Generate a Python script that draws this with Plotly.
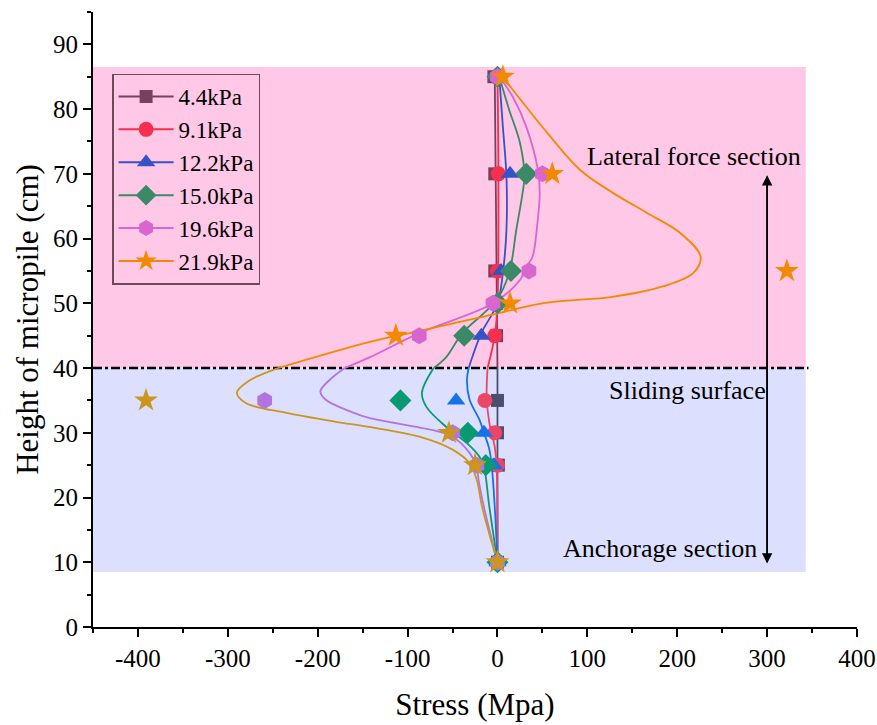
import plotly.graph_objects as go

# ---------------- data ----------------
series_names = ["4.4kPa", "9.1kPa", "12.2kPa", "15.0kPa", "19.6kPa", "21.9kPa"]
heights = [10, 25, 30, 35, 45, 50, 55, 70, 85]

stress_4_4 = [0, 1, 0, 0, -1, -1, -3, -3, -4]
stress_9_1 = [0, 0, -3, -14, -3, 0, 0, 1, 0]
stress_12_2 = [0, -4, -15, -46, -18, 4, 4, 14, 0]
stress_15_0 = [0, -13, -33, -108, -37, 0, 15, 32, 0]
stress_19_6 = [0, -23, -50, -259, -87, -5, 35, 50, 0]
stress_21_9 = [0, -25, -54, -391, -113, 14, 322, 61, 6]

# fitted curves (height, stress)
curve_h_4_4 = [10, 25, 40, 55, 70, 85]
curve_s_4_4 = [0, 0, 0, -1, -2, -3]
curve_h_9_1 = [10, 25, 27.8, 31.5, 35.5, 40, 45, 50, 70, 85]
curve_s_9_1 = [0, -1, -3, -9, -12, -11, -3, 0, 1, 0]
curve_h_12_2 = [10, 18.5, 24.3, 27.4, 30, 32, 35.1, 38.2, 40, 41.7, 45.4, 50, 54.7, 61.4, 69.6, 77.3, 85]
curve_s_12_2 = [0, -3, -6, -9, -15, -20, -31, -34, -32, -28, -18, 0, 6, 10, 10, 6, 2]
curve_h_15_0 = [10, 18.5, 24.7, 26.3, 28.4, 30.9, 34, 36.2, 40, 41.7, 45.4, 50.5, 54.7, 61.4, 67.1, 69.6, 74.8, 79.9, 85]
curve_s_15_0 = [0, -9, -15, -20, -34, -57, -79, -84, -71, -57, -39, -1, 13, 21, 28, 30, 25, 13, 2]
curve_h_19_6 = [10, 18.5, 22.7, 24.7, 26.9, 29.4, 30.4, 32.3, 33.2, 35.1, 36.4, 38, 40, 41.6, 45.4, 50,
                53.6, 55.6, 57.2, 61.8, 67.1, 70.6, 77.3, 81.9, 85]
curve_s_19_6 = [0, -15, -21, -23, -31, -50, -72, -143, -162, -191, -197, -188, -170, -143, -87, -5,
                25, 32, 39, 44, 47, 45, 32, 17, 2]
curve_h_21_9 = [10, 18.5, 22.7, 25.3, 27.4, 29.4, 30.9, 31.7, 33.1, 34.6, 36.2, 38, 40, 44, 45.6, 48,
                50.1, 51, 52.6, 54.7, 57.2, 60.9, 64, 67.1, 70.6, 76.4, 83, 85]
curve_s_21_9 = [0, -17, -23, -31, -50, -87, -143, -180, -236, -280, -290, -277, -244, -143, -91, -14,
                55, 128, 184, 218, 226, 203, 166, 128, 92, 55, 17, 6]

x_tick_vals = [-400, -300, -200, -100, 0, 100, 200, 300, 400]
x_tick_text = ["-400", "-300", "-200", "-100", "0", "100", "200", "300", "400"]
y_tick_vals = [0, 10, 20, 30, 40, 50, 60, 70, 80, 90]

# ---------------- styles ----------------
points = [stress_4_4, stress_9_1, stress_12_2, stress_15_0, stress_19_6, stress_21_9]
curves = [(curve_h_4_4, curve_s_4_4), (curve_h_9_1, curve_s_9_1), (curve_h_12_2, curve_s_12_2),
          (curve_h_15_0, curve_s_15_0), (curve_h_19_6, curve_s_19_6), (curve_h_21_9, curve_s_21_9)]
top_colors = ["#7a3f5e", "#f5304e", "#3552c8", "#3a8a68", "#d865d0", "#f28a00"]
bot_colors = ["#4b4e6e", "#ea4668", "#1672e6", "#0a9a72", "#b275e0", "#cc961e"]
symbols = ["square", "circle", "triangle-up", "diamond", "hexagon", "star"]
sizes = [13, 15, 16, 17, 17, 18]
SURFACE = 40
FONT = "Liberation Serif, Times New Roman, serif"

fig = go.Figure()

# background zones
fig.add_shape(type="rect", x0=-450, x1=343, y0=40, y1=86.5, xref="x", yref="y",
              fillcolor="#ffc8e6", line_width=0, layer="below")
fig.add_shape(type="rect", x0=-450, x1=343, y0=8.5, y1=40, xref="x", yref="y",
              fillcolor="#dce0fe", line_width=0, layer="below")
fig.add_shape(type="line", x0=-450, x1=346, y0=40, y1=40, xref="x", yref="y",
              line=dict(color="black", width=2.5, dash="dashdot"), layer="below")

# curves
for i, (ch, cs) in enumerate(curves):
    bh = [h for h in ch if h <= SURFACE]
    bs = [s for h, s in zip(ch, cs) if h <= SURFACE]
    th = [h for h in ch if h >= SURFACE]
    ts = [s for h, s in zip(ch, cs) if h >= SURFACE]
    fig.add_trace(go.Scatter(x=bs, y=bh, mode="lines", line=dict(color=bot_colors[i], width=1.8, shape="spline"),
                             showlegend=False, hoverinfo="skip"))
    fig.add_trace(go.Scatter(x=ts, y=th, mode="lines", line=dict(color=top_colors[i], width=1.8, shape="spline"),
                             showlegend=False, hoverinfo="skip"))

# markers
for i, vals in enumerate(points):
    cols = [top_colors[i] if h > SURFACE else bot_colors[i] for h in heights]
    fig.add_trace(go.Scatter(x=vals, y=heights, mode="markers",
                             marker=dict(symbol=symbols[i], size=sizes[i], color=cols, line_width=0),
                             showlegend=False))

# legend entries
for i, name in enumerate(series_names):
    fig.add_trace(go.Scatter(x=[None], y=[None], mode="lines+markers", name=name,
                             line=dict(color=top_colors[i], width=2),
                             marker=dict(symbol=symbols[i], size=sizes[i], color=top_colors[i])))

# texts and arrow
ann_font = dict(family=FONT, size=26, color="black")
fig.add_annotation(x=219, y=72.7, text="Lateral force section", showarrow=False, font=ann_font)
fig.add_annotation(x=211, y=36.6, text="Sliding surface", showarrow=False, font=ann_font)
fig.add_annotation(x=181, y=12.1, text="Anchorage section", showarrow=False, font=ann_font)
fig.add_annotation(x=300, y=69.8, ax=300, ay=9.8, xref="x", yref="y", axref="x", ayref="y",
                   text="", showarrow=True, arrowhead=2, arrowsize=1.3, arrowwidth=1.6, arrowcolor="black")
fig.add_annotation(x=300, y=9.8, ax=300, ay=69.8, xref="x", yref="y", axref="x", ayref="y",
                   text="", showarrow=True, arrowhead=2, arrowsize=1.3, arrowwidth=1.6, arrowcolor="black")

fig.update_layout(
    width=877, height=725,
    margin=dict(l=93, r=20, t=12, b=98),
    paper_bgcolor="white", plot_bgcolor="white",
    font=dict(family=FONT, color="black"),
    legend=dict(x=0.025, y=0.9, xanchor="left", yanchor="top",
                bgcolor="rgba(0,0,0,0)", bordercolor="#6b4a5a", borderwidth=1.5, itemwidth=55,
                font=dict(family=FONT, size=23, color="black"), tracegroupgap=0),
)
fig.update_xaxes(range=[-450, 400], tickvals=x_tick_vals, ticktext=x_tick_text, automargin=False,
                 showgrid=False, zeroline=False, showline=True, linecolor="black", linewidth=2,
                 ticks="outside", ticklen=8, tickwidth=2, tickcolor="black",
                 tickfont=dict(family=FONT, size=25),
                 minor=dict(dtick=50, tick0=0, ticks="outside", ticklen=4, tickwidth=2, tickcolor="black"),
                 title=dict(text="Stress (Mpa)", font=dict(family=FONT, size=31), standoff=22))
fig.update_yaxes(range=[0, 95], tickvals=y_tick_vals, automargin=False,
                 showgrid=False, zeroline=False, showline=True, linecolor="black", linewidth=2,
                 ticks="outside", ticklen=8, tickwidth=2, tickcolor="black",
                 tickfont=dict(family=FONT, size=25),
                 minor=dict(dtick=5, tick0=0, ticks="outside", ticklen=4, tickwidth=2, tickcolor="black"),
                 title=dict(text="Height of micropile (cm)", font=dict(family=FONT, size=31), standoff=5))

fig.write_html("out.html", config={"displayModeBar": False},
               post_script="document.body.style.margin='0';")
